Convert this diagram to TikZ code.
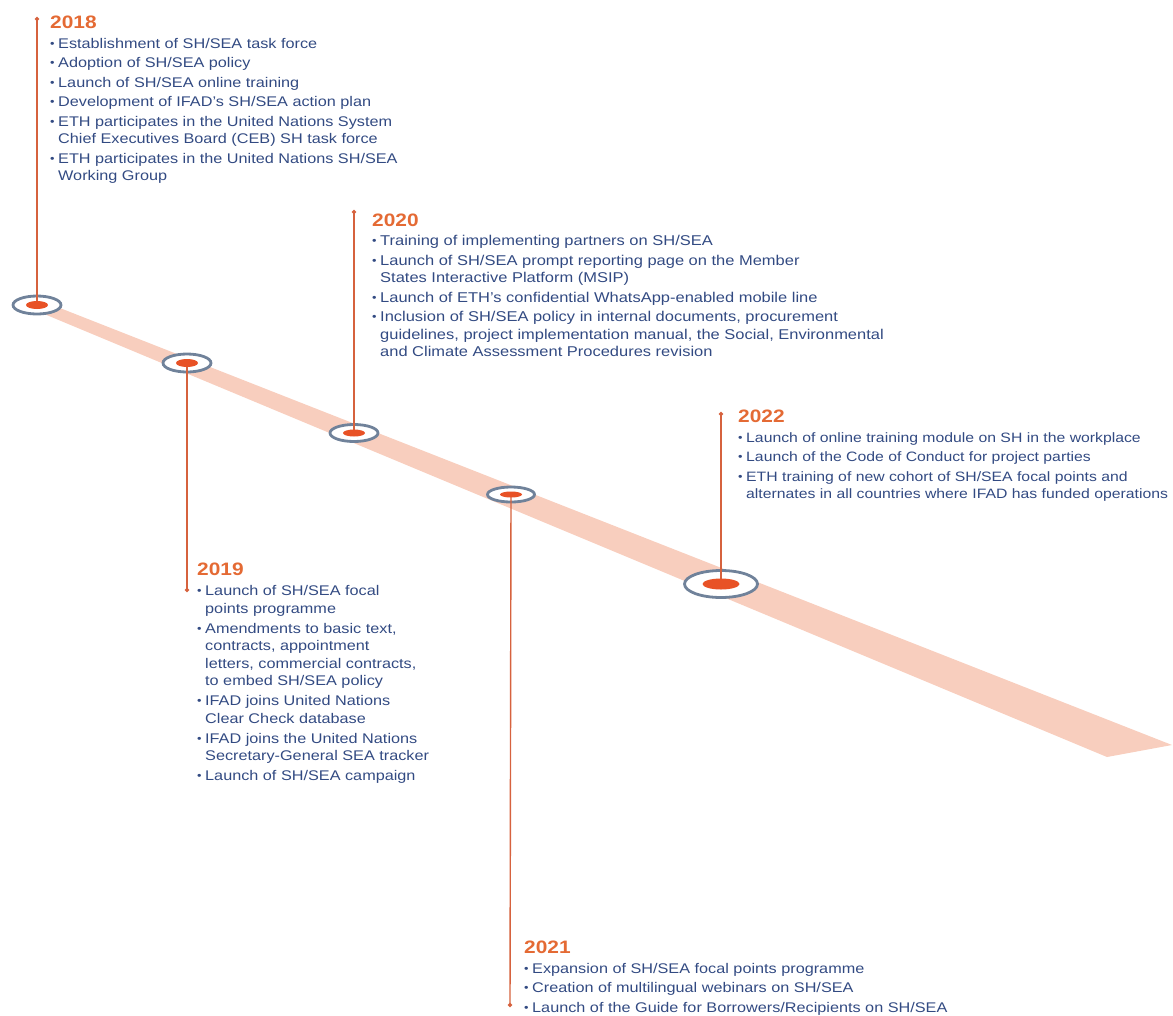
\documentclass[tikz,border=0pt]{standalone}
\usepackage{fontspec}
\setmainfont{Liberation Sans}[FakeStretch=1.16]
\usetikzlibrary{arrows.meta,shapes.geometric}
\definecolor{bandc}{RGB}{248,206,190}
\definecolor{ringc}{RGB}{112,130,154}
\definecolor{dotc}{RGB}{232,82,38}
\definecolor{linec}{RGB}{214,98,62}
\definecolor{yearc}{RGB}{228,106,52}
\definecolor{textc}{RGB}{50,74,130}
\newcommand{\yr}[1]{{\fontsize{18}{17.5}\selectfont\bfseries\color{yearc}#1}}
\newcommand{\bul}{\makebox[8pt][l]{\fontsize{11}{11}\selectfont\raisebox{0.6pt}{•}}}
\newcommand{\cnt}{\hspace*{8pt}}
\begin{document}
\begin{tikzpicture}[x=1pt,y=-1pt,
  ring/.style={draw=ringc, line width=2.8pt, fill=white, ellipse, inner sep=0pt},
  core/.style={fill=dotc, ellipse, inner sep=0pt},
  stem/.style={draw=linec, line width=1.4pt, -{Circle[length=4pt,width=4pt]}},
  block/.style={anchor=base west, inner sep=0pt, text=textc, font=\fontsize{14}{17.5}\selectfont}]
\useasboundingbox (0,0) rectangle (1173,1015);
% band
\fill[bandc] (37,299) -- (1172,745) -- (1107,757) -- (37,311) -- cycle;
% rings
\node[ring, minimum width=48pt, minimum height=18pt] (c18) at (37,305) {};
\node[ring, minimum width=48pt, minimum height=18pt] (c19) at (187,363) {};
\node[ring, minimum width=48pt, minimum height=17pt] (c20) at (354,433) {};
\node[ring, minimum width=47pt, minimum height=15pt] (c21) at (511,494.5) {};
\node[ring, minimum width=73pt, minimum height=27pt] (c22) at (721,584) {};
% stem ends
\coordinate (t18) at (37,17);
\coordinate (t19) at (187,592);
\coordinate (t20) at (354,210);
\coordinate (t21) at (510,1007);
\coordinate (t22) at (721,412);
\draw[stem] (c18.center) -- (t18);
\draw[stem] (c19.center) -- (t19);
\draw[stem] (c20.center) -- (t20);
\draw[stem] (c21.center) -- (t21);
\draw[stem] (c22.center) -- (t22);
% cores
\node[core, minimum width=22pt, minimum height=8pt] (d18) at (c18.center) {};
\node[core, minimum width=22pt, minimum height=8pt] (d19) at (c19.center) {};
\node[core, minimum width=22pt, minimum height=7pt] (d20) at (c20.center) {};
\node[core, minimum width=22pt, minimum height=6pt] (d21) at (c21.center) {};
\node[core, minimum width=37pt, minimum height=11pt] (d22) at (c22.center) {};
% texts
\node[block] (b18) at (50,28) {\begin{tabular}[t]{@{}l@{}}
\yr{2018}\\[2.5pt]
\bul Establishment of SH/SEA task force\\[2pt]
\bul Adoption of SH/SEA policy\\[2pt]
\bul Launch of SH/SEA online training\\[2pt]
\bul Development of IFAD's SH/SEA action plan\\[2pt]
\bul ETH participates in the United Nations System\\
\cnt Chief Executives Board (CEB) SH task force\\[2pt]
\bul ETH participates in the United Nations SH/SEA\\
\cnt Working Group
\end{tabular}};
\node[block] (b19) at (197,575) {\begin{tabular}[t]{@{}l@{}}
\yr{2019}\\[3pt]
\bul Launch of SH/SEA focal\\
\cnt points programme\\[2.5pt]
\bul Amendments to basic text,\\
\cnt contracts, appointment\\
\cnt letters, commercial contracts,\\
\cnt to embed SH/SEA policy\\[2.5pt]
\bul IFAD joins United Nations\\
\cnt Clear Check database\\[2.5pt]
\bul IFAD joins the United Nations\\
\cnt Secretary-General SEA tracker\\[2.5pt]
\bul Launch of SH/SEA campaign
\end{tabular}};
\node[block, font=\fontsize{14.2}{17.5}\selectfont] (b20) at (372,226) {\begin{tabular}[t]{@{}l@{}}
\yr{2020}\\[2pt]
\bul Training of implementing partners on SH/SEA\\[2pt]
\bul Launch of SH/SEA prompt reporting page on the Member\\
\cnt States Interactive Platform (MSIP)\\[2pt]
\bul Launch of ETH's confidential WhatsApp-enabled mobile line\\[2pt]
\bul Inclusion of SH/SEA policy in internal documents, procurement\\
\cnt guidelines, project implementation manual, the Social, Environmental\\
\cnt and Climate Assessment Procedures revision
\end{tabular}};
\node[block] (b21) at (524,953) {\begin{tabular}[t]{@{}l@{}}
\yr{2021}\\[2.5pt]
\bul Expansion of SH/SEA focal points programme\\[2pt]
\bul Creation of multilingual webinars on SH/SEA\\[2pt]
\bul Launch of the Guide for Borrowers/Recipients on SH/SEA
\end{tabular}};
\node[block, font=\fontsize{13.6}{17.5}\selectfont] (b22) at (738,422) {\begin{tabular}[t]{@{}l@{}}
\yr{2022}\\[2.5pt]
\bul Launch of online training module on SH in the workplace\\[2pt]
\bul Launch of the Code of Conduct for project parties\\[2pt]
\bul ETH training of new cohort of SH/SEA focal points and\\
\cnt alternates in all countries where IFAD has funded operations
\end{tabular}};
\end{tikzpicture}
\end{document}
